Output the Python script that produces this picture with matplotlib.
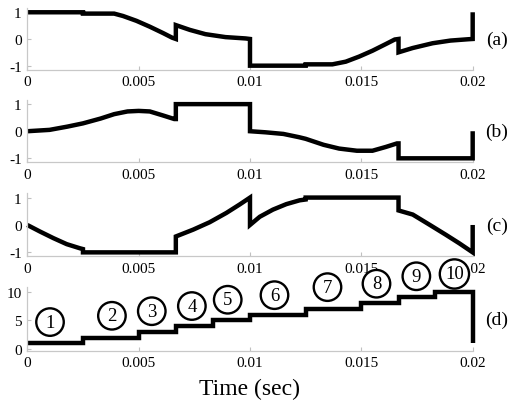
import numpy as np
import matplotlib
matplotlib.use("Agg")
import matplotlib.pyplot as plt

plt.rcParams["font.family"] = ["Liberation Serif", "DejaVu Serif"]
plt.rcParams["axes.unicode_minus"] = False

# values
t_a = [0, .0025, .0025, .0039, .0043, .0049, .0055, .0061, .0065, .00667, .00667,
       .0073, .0080, .0089, .0098, .0100, .0100, .0125, .0125, .0137, .0143, .0149,
       .0155, .0161, .0165, .01667, .01667, .0173, .0182, .0190, .0198, .0200, .0200]
v_a = [1, 1, .95, .95, .86, .68, .46, .22, .05, 0, .52,
       .34, .18, .07, .02, 0, -1, -1, -.95, -.95, -.85, -.66,
       -.44, -.19, -.02, 0, -.5, -.34, -.16, -.06, -.01, 0, 1]

t_b = [0, .001, .0018, .0025, .0033, .0039, .0045, .0050, .0055, .0061, .0066, .00667,
       .00667, .0100, .0100, .0107, .0115, .0122, .0125, .0133, .0140, .0148, .0155,
       .0161, .0166, .01667, .01667, .0200, .0200]
v_b = [0, .05, .17, .29, .47, .63, .73, .75, .73, .58, .45, .45,
       1, 1, 0, -.04, -.1, -.22, -.28, -.5, -.64, -.72, -.72,
       -.58, -.45, -.45, -1, -1, 0]

t_c = [0, .00057, .00117, .00177, .00236, .0025, .0025, .00667, .00667, .00745, .00819,
       .00894, .00954, .0100, .0100, .01044, .01103, .01163, .01223, .0125, .0125,
       .01667, .01667, .01731, .01806, .0188, .0194, .0200, .0200]
v_c = [0, -.24, -.48, -.7, -.85, -.88, -1, -1, -.42, -.17, .1,
       .44, .75, 1, 0, .3, .56, .76, .9, .93, 1,
       1, .53, .38, .01, -.36, -.67, -1, 0]

t_d = [0, .0025, .005, .00667, .00833, .01, .0125, .015, .01667, .01833, .02, .02]
v_d = [1, 2, 3, 4, 5, 6, 7, 8, 9, 10, 10, 1]

sectors = ["1", "2", "3", "4", "5", "6", "7", "8", "9", "10"]
lbl_t = [.00102, .0038, .00559, .00739, .009, .0111, .01348, .01568, .01747, .01918]
lbl_v = [4.7, 5.8, 6.6, 7.5, 8.6, 9.4, 10.8, 11.4, 12.7, 13.1]

xticks = [0, 0.005, 0.01, 0.015, 0.02]
xticklabels = ["0", "0.005", "0.01", "0.015", "0.02"]
panel_names = ["(a)", "(b)", "(c)", "(d)"]

fig = plt.figure(figsize=(5.2, 4.1), dpi=100)

# [left, bottom, width, height] in figure fractions
boxes = [[0.0525, 0.8276, 0.8565, 0.1498],
         [0.0525, 0.6015, 0.8565, 0.1520],
         [0.0525, 0.3720, 0.8565, 0.1537],
         [0.0525, 0.1422, 0.8565, 0.1550]]

data = [(t_a, v_a), (t_b, v_b), (t_c, v_c)]
axes = []
for i, box in enumerate(boxes):
    ax = fig.add_axes(box)
    if i < 3:
        t, v = data[i]
        ax.plot(t, v, color="black", lw=3.2, solid_joinstyle="miter",
                solid_capstyle="butt", clip_on=False)
        ax.set_ylim(-1.15, 1.15)
        ax.set_yticks([-1, 0, 1])
    else:
        ax.plot(t_d, v_d, color="black", lw=3.2, drawstyle="steps-post",
                solid_joinstyle="miter", solid_capstyle="butt", clip_on=False)
        ax.set_ylim(-0.3, 10.8)
        ax.set_yticks([0, 5, 10])
    ax.set_xlim(0, 0.02)
    ax.set_xticks(xticks)
    ax.set_xticklabels(xticklabels)
    for s in ["top", "right"]:
        ax.spines[s].set_visible(False)
    for s in ["left", "bottom"]:
        ax.spines[s].set_color("#c8c8c8")
        ax.spines[s].set_linewidth(0.9)
    ax.tick_params(direction="in", length=3, width=0.8, color="#c0c0c0",
                   labelsize=11, pad=4)
    ax.text(1.054, 0.5, panel_names[i], transform=ax.transAxes,
            ha="center", va="center", fontsize=14)
    axes.append(ax)

ax_d = axes[3]
for n, tt, vv in zip(sectors, lbl_t, lbl_v):
    ax_d.text(tt, vv, n, ha="center", va="center", fontsize=13.5, clip_on=False,
              zorder=5,
              bbox=dict(boxstyle="circle,pad=0.28", fc="white", ec="black", lw=1.7))

ax_d.set_xlabel("Time (sec)", fontsize=17, labelpad=6)

fig.savefig("out.png", dpi=100)
